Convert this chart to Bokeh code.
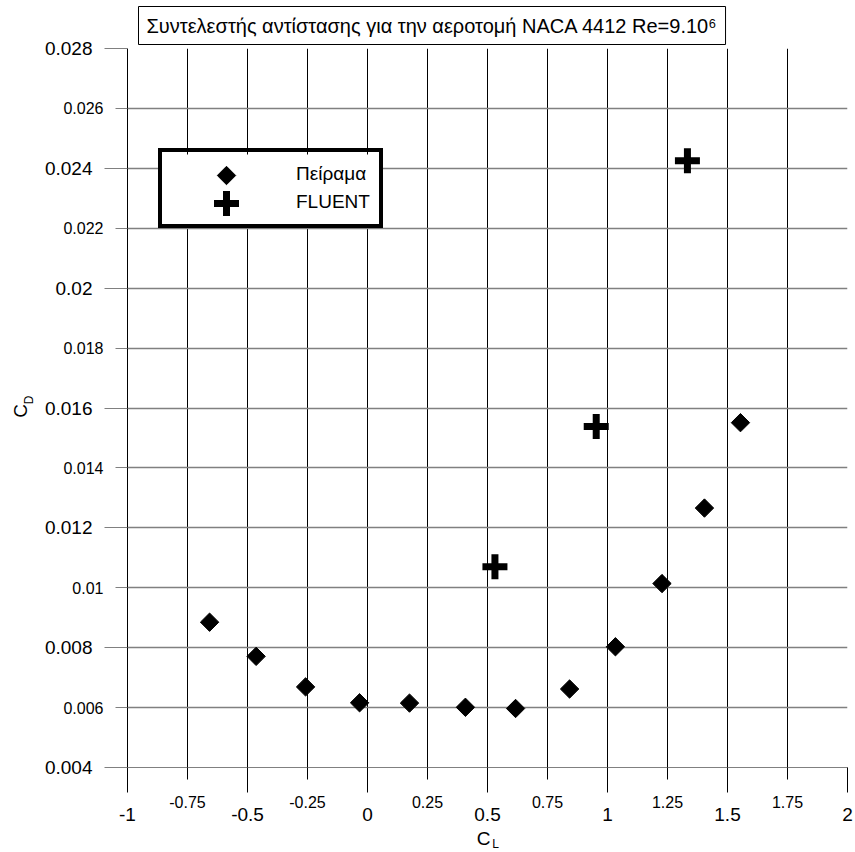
import numpy as np
from bokeh.plotting import figure
from bokeh.models import FixedTicker, Label, Legend, LegendItem, Range1d, LinearAxis
from bokeh.embed import file_html
from bokeh.resources import INLINE

# ---- data ----
exp_cl = [-0.658, -0.464, -0.258, -0.033, 0.175, 0.408, 0.617, 0.842, 1.033, 1.227, 1.404, 1.554]
exp_cd = [0.00885, 0.00771, 0.00669, 0.00616, 0.00615, 0.00601, 0.00597, 0.00662, 0.00803, 0.01014, 0.01266, 0.01551]
fl_cl = [0.531, 0.953, 1.333]
fl_cd = [0.01070, 0.01538, 0.02425]

x_major = [-1.0, -0.5, 0.0, 0.5, 1.0, 1.5, 2.0]
x_major_labels = ["-1", "-0.5", "0", "0.5", "1", "1.5", "2"]
x_minor = [-0.75, -0.25, 0.25, 0.75, 1.25, 1.75]
x_minor_labels = ["-0.75", "-0.25", "0.25", "0.75", "1.25", "1.75"]
y_major = [0.004, 0.008, 0.012, 0.016, 0.020, 0.024, 0.028]
y_major_labels = ["0.004", "0.008", "0.012", "0.016", "0.02", "0.024", "0.028"]
y_minor = [0.006, 0.010, 0.014, 0.018, 0.022, 0.026]
y_minor_labels = ["0.006", "0.01", "0.014", "0.018", "0.022", "0.026"]

title_text = "Συντελεστής αντίστασης για την αεροτομή NACA 4412 Re=9.10⁶"
series_names = ["Πείραμα", "FLUENT"]

FONT = "Liberation Sans"
X0, X1, Y0, Y1 = -1.0, 2.0, 0.004, 0.028
FW, FH = 720, 719

p = figure(frame_width=FW, frame_height=FH, output_backend="svg", toolbar_location=None,
           x_range=Range1d(X0, X1), y_range=Range1d(Y0, Y1),
           min_border_left=127, min_border_top=48, min_border_right=6, min_border_bottom=83)
p.outline_line_color = None
p.background_fill_color = "white"
p.border_fill_color = "white"

# title (boxed)
p.title.text = title_text
p.title.align = "left"
p.title.offset = 11
p.title.vertical_align = "bottom"
p.title.standoff = 8
p.title.text_font = FONT
p.title.text_font_size = "20px"
p.title.text_font_style = "normal"
p.title.text_color = "black"
p.title.border_line_color = "black"
p.title.border_line_width = 1
p.title.background_fill_color = "white"
p.title.padding = 8

# grids
p.xgrid.ticker = FixedTicker(ticks=sorted(x_major + x_minor))
p.ygrid.ticker = FixedTicker(ticks=sorted(y_major + y_minor))
p.xgrid.grid_line_color = "black"
p.xgrid.grid_line_width = 1
p.ygrid.grid_line_color = "#808080"
p.ygrid.grid_line_width = 1.3

# x axis: inner (small labels) + outer (large labels)
xa = p.xaxis[0]
xa.ticker = FixedTicker(ticks=x_minor, minor_ticks=x_major)
xa.major_label_overrides = {v: s for v, s in zip(x_minor, x_minor_labels)}
xa.axis_line_color = "#808080"
xa.major_tick_line_color = "black"
xa.minor_tick_line_color = "black"
xa.major_tick_in = 0
xa.major_tick_out = 12
xa.minor_tick_in = 0
xa.minor_tick_out = 25
xa.major_label_standoff = 3
xa.major_label_text_font = FONT
xa.major_label_text_font_size = "16px"
xa.major_label_text_color = "black"

xb = LinearAxis(ticker=FixedTicker(ticks=x_major, minor_ticks=[]),
                major_label_overrides={v: s for v, s in zip(x_major, x_major_labels)},
                axis_line_color=None, major_tick_line_color=None, minor_tick_line_color=None,
                major_tick_in=0, major_tick_out=0, minor_tick_in=0, minor_tick_out=0,
                major_label_standoff=-3, major_label_text_font=FONT,
                major_label_text_font_size="19px", major_label_text_color="black")
p.add_layout(xb, "below")

# y axis: inner (small labels) + outer (large labels)
ya = p.yaxis[0]
ya.ticker = FixedTicker(ticks=y_minor, minor_ticks=y_major)
ya.major_label_overrides = {v: s for v, s in zip(y_minor, y_minor_labels)}
ya.axis_line_color = "black"
ya.major_tick_line_color = "#808080"
ya.minor_tick_line_color = "#808080"
ya.major_tick_in = 0
ya.major_tick_out = 12
ya.minor_tick_in = 0
ya.minor_tick_out = 23
ya.major_label_standoff = 1
ya.major_label_text_font = FONT
ya.major_label_text_font_size = "16px"
ya.major_label_text_color = "black"

yb = LinearAxis(ticker=FixedTicker(ticks=y_major, minor_ticks=[]),
                major_label_overrides={v: s for v, s in zip(y_major, y_major_labels)},
                axis_line_color=None, major_tick_line_color=None, minor_tick_line_color=None,
                major_tick_in=0, major_tick_out=0, minor_tick_in=0, minor_tick_out=0,
                major_label_standoff=-32, major_label_text_font=FONT,
                major_label_text_font_size="19px", major_label_text_color="black")
p.add_layout(yb, "left")

# axis titles with subscripts (kept in the bottom panel so they are not clipped)
p.add_layout(Label(x=0.5, y=Y0, x_offset=-4, y_offset=-71, text="C", text_align="center",
                   text_baseline="middle", text_font=FONT, text_font_size="19px",
                   text_color="black"), "below")
p.add_layout(Label(x=0.5, y=Y0, x_offset=8, y_offset=-76, text="L", text_align="center",
                   text_baseline="middle", text_font=FONT, text_font_size="12px",
                   text_color="black"), "below")
p.add_layout(Label(x=X0, y=0.016, x_offset=-107, y_offset=-3, text="C", angle=np.pi / 2,
                   text_align="center", text_baseline="middle", text_font=FONT,
                   text_font_size="19px", text_color="black"), "below")
p.add_layout(Label(x=X0, y=0.016, x_offset=-99, y_offset=8, text="D", angle=np.pi / 2,
                   text_align="center", text_baseline="middle", text_font=FONT,
                   text_font_size="12px", text_color="black"), "below")

# data
r_exp = p.scatter(exp_cl, exp_cd, marker="square", angle=np.pi / 4, size=13,
                  fill_color="black", line_color="black")
r_fl = p.scatter(fl_cl, fl_cd, marker="cross", size=25, line_width=7,
                 line_color="black")

# ---- legend: white panel + full-size swatches as glyphs, box/labels as a Legend ----
LEG_X, LEG_Y, PAD, GW, IH, SP, STD, LEG_W = 31, 542, 9, 118, 26, 2, 7, 222
LEG_SHIFT = 3
ppx = FW / (X1 - X0)
ppy = FH / (Y1 - Y0)
leg_h = 2 * PAD + 2 * IH + SP

p.quad(left=[X0 + (LEG_X + 1) / ppx], right=[X0 + (LEG_X + LEG_W - 1) / ppx],
       bottom=[Y0 + (LEG_Y + 1) / ppy], top=[Y0 + (LEG_Y + leg_h - 1) / ppy],
       fill_color="white", line_color=None)

sw_x = X0 + (LEG_X + PAD + GW / 2) / ppx
sw_y1 = Y0 + (LEG_Y + leg_h - PAD - IH / 2) / ppy
sw_y2 = sw_y1 - (IH + SP) / ppy
sw_exp = p.scatter([sw_x], [sw_y1], marker="square", angle=np.pi / 4, size=13,
                   fill_color="black", line_color="black")
sw_fl = p.scatter([sw_x], [sw_y2], marker="cross", size=25, line_width=7, line_color="black")

# invisible proxies so the legend's own (small) glyphs don't show
px_exp = p.scatter([], [], marker="square", fill_alpha=0, line_alpha=0)
px_fl = p.scatter([], [], marker="cross", line_alpha=0)

legend = Legend(items=[LegendItem(label=series_names[0], renderers=[px_exp]),
                       LegendItem(label=series_names[1], renderers=[px_fl])],
                location=(LEG_X, LEG_Y - LEG_SHIFT), orientation="vertical",
                border_line_color="black", border_line_width=4, border_line_alpha=1.0,
                background_fill_alpha=0.0,
                padding=PAD, spacing=SP, margin=0,
                glyph_width=GW, glyph_height=IH, label_height=IH, label_standoff=STD,
                label_text_font=FONT, label_text_font_size="19px", label_text_color="black")
p.add_layout(legend, "center")

open("out.html", "w").write(file_html(p, INLINE))
